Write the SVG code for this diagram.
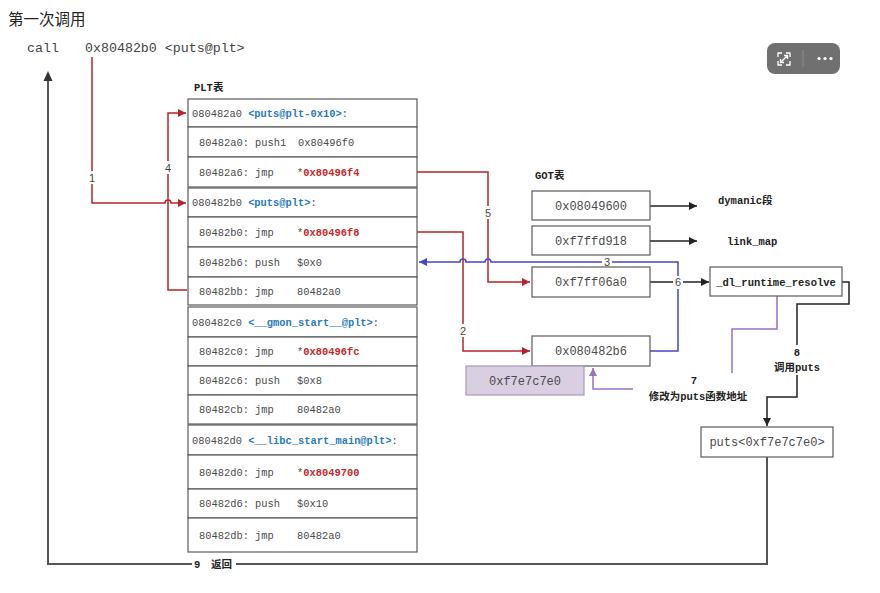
<svg xmlns="http://www.w3.org/2000/svg" width="880" height="593" viewBox="0 0 880 593">
  <defs>
    <style>
      .cell{fill:#fff;stroke:#5a5a5a;stroke-width:1.2}
      .t{font-family:"Liberation Mono","Noto Sans CJK SC",monospace;font-size:10.4px;fill:#4a4a4a}
      .lbl{fill:#2a7ab8;font-weight:bold}
      .addr{fill:#c62828;font-weight:bold}
      .got{font-family:"Liberation Mono",monospace;font-size:12px;fill:#4a4a4a;text-anchor:middle}
      .b{font-family:"Liberation Mono","Noto Sans CJK SC",monospace;font-weight:bold;font-size:10.5px;fill:#222}
      .n{font-family:"Liberation Sans",sans-serif;font-size:11px;fill:#444;text-anchor:middle}
      .red{fill:none;stroke:#b5252b;stroke-width:1.5}
      .blue{fill:none;stroke:#4646c8;stroke-width:1.5}
      .pur{fill:none;stroke:#9a72c0;stroke-width:1.5}
      .blk{fill:none;stroke:#222;stroke-width:1.5}
      .ret{fill:none;stroke:#555;stroke-width:2}
      .gap{fill:#fff}
    </style>
    <marker id="ar-red" viewBox="0 0 10 10" refX="10" refY="5" markerWidth="8" markerHeight="8" markerUnits="userSpaceOnUse" orient="auto">
      <path d="M0,0 L10,5 L0,10 z" fill="#b5252b"/>
    </marker>
    <marker id="ar-blue" viewBox="0 0 10 10" refX="10" refY="5" markerWidth="8" markerHeight="8" markerUnits="userSpaceOnUse" orient="auto">
      <path d="M0,0 L10,5 L0,10 z" fill="#4646c8"/>
    </marker>
    <marker id="ar-pur" viewBox="0 0 10 10" refX="10" refY="5" markerWidth="8" markerHeight="8" markerUnits="userSpaceOnUse" orient="auto">
      <path d="M0,0 L10,5 L0,10 z" fill="#9a72c0"/>
    </marker>
    <marker id="ar-blk" viewBox="0 0 10 10" refX="10" refY="5" markerWidth="8" markerHeight="8" markerUnits="userSpaceOnUse" orient="auto">
      <path d="M0,0 L10,5 L0,10 z" fill="#222"/>
    </marker>
  </defs>

  <rect width="880" height="593" fill="#fff"/>

  <!-- heading and call instruction -->
  <text x="8" y="25" font-family="'Noto Sans CJK SC',sans-serif" font-size="15.5" fill="#222">第一次调用</text>
  <text x="27" y="52" font-family="'Liberation Mono',monospace" font-size="13.3" fill="#444">call</text>
  <text x="85" y="52" font-family="'Liberation Mono',monospace" font-size="13.3" fill="#444">0x80482b0 &lt;puts@plt&gt;</text>

  <!-- toolbar -->
  <g id="toolbar">
    <rect x="767" y="43" width="73" height="31" rx="8" fill="#707070"/>
    <line x1="803" y1="50" x2="803" y2="67" stroke="#8c8c8c" stroke-width="1"/>
    <path d="M778,57 V53 H782 M786,53 H790 V57 M790,61 V65 H786 M782,65 H778 V61 M780.5,62.5 L787.5,55.5 M784,55.5 H787.5 V59 M780.5,59 V62.5 H784" fill="none" stroke="#fff" stroke-width="1.3"/>
    <circle cx="819" cy="58.5" r="1.6" fill="#fff"/>
    <circle cx="825" cy="58.5" r="1.6" fill="#fff"/>
    <circle cx="831" cy="58.5" r="1.6" fill="#fff"/>
  </g>

  <!-- connectors -->
  <g id="connectors">
    <path class="red" d="M187,290 H168 V113 H186" marker-end="url(#ar-red)"/>
    <path class="red" d="M92,57 V203 H165 a3,3 0 0 1 6,0 H186" marker-end="url(#ar-red)"/>
    <path class="red" d="M417,172 H488 V282 H530" marker-end="url(#ar-red)"/>
    <path class="red" d="M417,232 H463 V351 H530" marker-end="url(#ar-red)"/>
    <path class="blue" d="M650,351 H678 V262 H491 a3,3 0 0 0 -6,0 H466 a3,3 0 0 0 -6,0 H419" marker-end="url(#ar-blue)"/>
    <path class="blk" d="M650,206 H697" marker-end="url(#ar-blk)"/>
    <path class="blk" d="M650,241 H697" marker-end="url(#ar-blk)"/>
    <path class="blk" d="M650,282 H709" marker-end="url(#ar-blk)"/>
    <path class="blk" d="M842,282 H849 V304 H797 V345"/>
    <path class="blk" d="M797,375 V397 H767 V426" marker-end="url(#ar-blk)"/>
    <path class="pur" d="M777,296 V329 H732 V373"/>
    <path class="pur" d="M633,389 H593 V368" marker-end="url(#ar-pur)"/>
    <path class="ret" d="M767,457 V564 H236"/>
    <path class="ret" d="M192,564 H48 V80"/>
    <path d="M48,71 L52.5,81 L43.5,81 z" fill="#333"/>

    <!-- step labels -->
    <rect class="gap" x="87" y="171" width="10" height="13"/>
    <text class="n" x="92" y="182" font-family="'Liberation Serif',serif">1</text>
    <rect class="gap" x="163" y="161" width="10" height="13"/>
    <text class="n" x="168" y="172">4</text>
    <rect class="gap" x="483" y="206" width="10" height="13"/>
    <text class="n" x="488" y="217">5</text>
    <rect class="gap" x="458" y="324" width="10" height="13"/>
    <text class="n" x="463" y="335">2</text>
    <rect class="gap" x="602" y="255" width="10" height="13"/>
    <text class="n" x="607" y="266">3</text>
    <rect class="gap" x="673" y="276" width="10" height="13"/>
    <text class="n" x="678" y="286">6</text>
    <text class="b" x="797" y="356" text-anchor="middle">8</text>
    <text class="b" x="797" y="371" text-anchor="middle" font-size="11">调用puts</text>
    <text class="b" x="694" y="384" text-anchor="middle">7</text>
    <text class="b" x="698" y="400" text-anchor="middle" font-size="11">修改为puts函数地址</text>
    <text class="b" x="194" y="568">9</text>
    <text class="b" x="211" y="568" font-size="11">返回</text>
  </g>

  <!-- PLT table -->
  <text class="b" x="194" y="91" font-size="11">PLT表</text>
  <g id="plt0">
    <rect class="cell" x="188" y="99" width="229" height="28"/>
    <rect class="cell" x="188" y="127" width="229" height="30"/>
    <rect class="cell" x="188" y="157" width="229" height="30"/>
    <text class="t" x="192" y="117">080482a0 <tspan class="lbl">&lt;puts@plt-0x10&gt;</tspan>:</text>
    <text class="t" x="199" y="146">80482a0: push1</text>
    <text class="t" x="298" y="146">0x80496f0</text>
    <text class="t" x="199" y="176">80482a6: jmp</text>
    <text class="t" x="297" y="176">*<tspan class="addr">0x80496f4</tspan></text>
  </g>
  <g id="plt-puts">
    <rect class="cell" x="188" y="188" width="229" height="29"/>
    <rect class="cell" x="188" y="217" width="229" height="30"/>
    <rect class="cell" x="188" y="247" width="229" height="30"/>
    <rect class="cell" x="188" y="277" width="229" height="28"/>
    <text class="t" x="192" y="206">080482b0 <tspan class="lbl">&lt;puts@plt&gt;</tspan>:</text>
    <text class="t" x="199" y="236">80482b0: jmp</text>
    <text class="t" x="297" y="236">*<tspan class="addr">0x80496f8</tspan></text>
    <text class="t" x="199" y="266">80482b6: push</text>
    <text class="t" x="297" y="266">$0x0</text>
    <text class="t" x="199" y="295">80482bb: jmp</text>
    <text class="t" x="297" y="295">80482a0</text>
  </g>
  <g id="plt-gmon">
    <rect class="cell" x="188" y="307" width="229" height="30"/>
    <rect class="cell" x="188" y="337" width="229" height="29"/>
    <rect class="cell" x="188" y="366" width="229" height="29"/>
    <rect class="cell" x="188" y="395" width="229" height="29"/>
    <text class="t" x="192" y="326">080482c0 <tspan class="lbl">&lt;__gmon_start__@plt&gt;</tspan>:</text>
    <text class="t" x="199" y="355">80482c0: jmp</text>
    <text class="t" x="297" y="355">*<tspan class="addr">0x80496fc</tspan></text>
    <text class="t" x="199" y="384">80482c6: push</text>
    <text class="t" x="297" y="384">$0x8</text>
    <text class="t" x="199" y="413">80482cb: jmp</text>
    <text class="t" x="297" y="413">80482a0</text>
  </g>
  <g id="plt-libc">
    <rect class="cell" x="188" y="425" width="229" height="30"/>
    <rect class="cell" x="188" y="455" width="229" height="34"/>
    <rect class="cell" x="188" y="489" width="229" height="29"/>
    <rect class="cell" x="188" y="518" width="229" height="34"/>
    <text class="t" x="192" y="444">080482d0 <tspan class="lbl">&lt;__libc_start_main@plt&gt;</tspan>:</text>
    <text class="t" x="199" y="476">80482d0: jmp</text>
    <text class="t" x="297" y="476">*<tspan class="addr">0x8049700</tspan></text>
    <text class="t" x="199" y="507">80482d6: push</text>
    <text class="t" x="297" y="507">$0x10</text>
    <text class="t" x="199" y="539">80482db: jmp</text>
    <text class="t" x="297" y="539">80482a0</text>
  </g>

  <!-- GOT table -->
  <text class="b" x="535" y="179" font-size="11">GOT表</text>
  <g id="got0">
    <rect class="cell" x="532" y="191" width="118" height="29"/>
    <text class="got" x="591" y="210">0x08049600</text>
  </g>
  <g id="got1">
    <rect class="cell" x="532" y="226" width="118" height="29"/>
    <text class="got" x="591" y="245">0xf7ffd918</text>
  </g>
  <g id="got2">
    <rect class="cell" x="532" y="267" width="118" height="30"/>
    <text class="got" x="591" y="286">0xf7ff06a0</text>
  </g>
  <g id="got-puts">
    <rect class="cell" x="532" y="336" width="118" height="30"/>
    <text class="got" x="591" y="355">0x080482b6</text>
  </g>
  <g id="got-puts-new">
    <rect x="466" y="366" width="118" height="29" fill="#d8d0e2" stroke="#a898bc" stroke-width="1.2"/>
    <text class="got" x="525" y="385">0xf7e7c7e0</text>
  </g>

  <!-- targets -->
  <g id="dynamic">
    <text class="b" x="718" y="204" font-size="10">dymanic段</text>
  </g>
  <g id="link-map">
    <text class="b" x="727" y="245" font-size="10.4">link_map</text>
  </g>
  <g id="resolver">
    <rect class="cell" x="710" y="267" width="132" height="29"/>
    <text class="b" x="776" y="286" text-anchor="middle">_dl_runtime_resolve</text>
  </g>
  <g id="puts">
    <rect class="cell" x="701" y="427" width="132" height="30"/>
    <text class="got" x="767" y="446">puts&lt;0xf7e7c7e0&gt;</text>
  </g>
</svg>
